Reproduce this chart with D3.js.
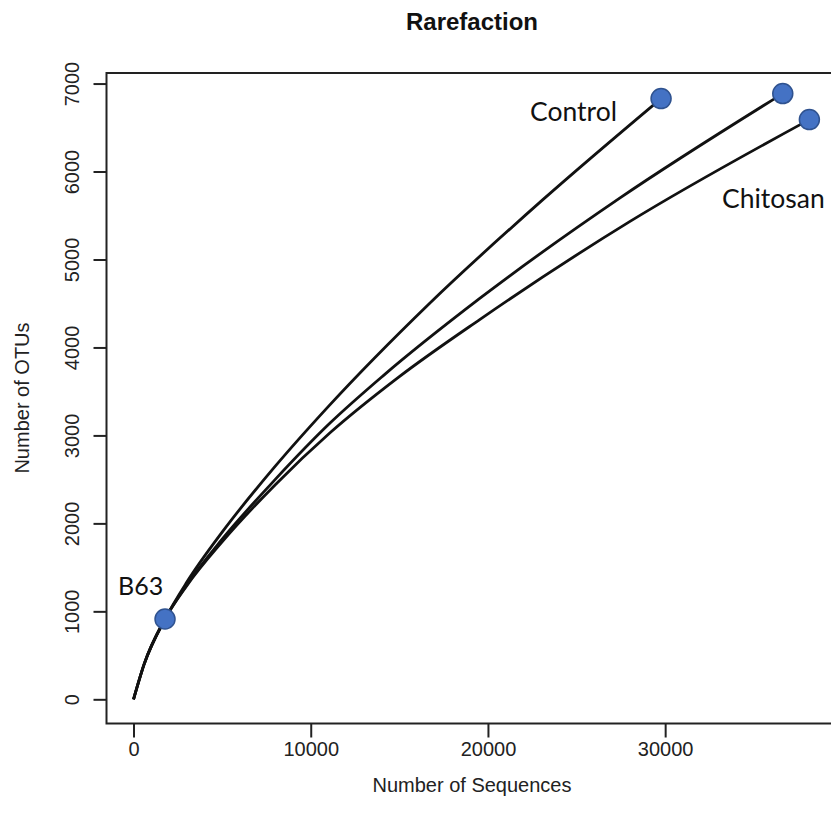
<!DOCTYPE html>
<html>
<head>
<meta charset="utf-8">
<script src="https://cdn.jsdelivr.net/npm/d3@7"></script>
<style>
  html, body { margin: 0; padding: 0; background: #fff; }
  svg { display: block; }
</style>
</head>
<body>
<svg id="chart" width="831" height="824"></svg>
<script>
// ---- data ----
const title = "Rarefaction";
const xLabel = "Number of Sequences";
const yLabel = "Number of OTUs";
const xTicks = [0, 10000, 20000, 30000];
const yTicks = [0, 1000, 2000, 3000, 4000, 5000, 6000, 7000];

const controlX = [0, 600, 1778, 3000, 5000, 8000, 11000, 16700, 23100, 29769];
const controlY = [0, 400, 913, 1330, 1900, 2650, 3330, 4500, 5680, 6829];

const middleX = [0, 600, 1778, 3000, 5000, 8000, 11089, 14097, 19555, 27455, 36637];
const middleY = [0, 400, 913, 1300, 1820, 2500, 3140, 3680, 4560, 5700, 6886];

const chitosanX = [0, 600, 1778, 3000, 5000, 8000, 11089, 14944, 19555, 28019, 38138];
const chitosanY = [0, 400, 913, 1290, 1790, 2440, 3030, 3660, 4320, 5433, 6590];

const pointX = [1778, 29769, 36637, 38138];
const pointY = [913, 6829, 6886, 6590];

const labelText = ["B63", "Control", "Chitosan"];

// ---- drawing ----
const svg = d3.select("#chart");
const x = d3.scaleLinear().domain([-1525, 39663]).range([106.5, 836.4]);
const y = d3.scaleLinear().domain([-275, 7120]).range([723.5, 73]);

const axisFont = "'Liberation Sans', Arial, sans-serif";
const labelFont = "Lato, 'Open Sans', sans-serif";

// frame
svg.append("rect")
  .attr("x", x(-1525)).attr("y", y(7120))
  .attr("width", x(39663) - x(-1525)).attr("height", y(-275) - y(7120))
  .attr("fill", "none").attr("stroke", "#222").attr("stroke-width", 2);

// x axis
const xAxis = d3.axisBottom(x).tickValues(xTicks).tickSize(14).tickPadding(4).tickFormat(d3.format("d"));
const gx = svg.append("g").attr("transform", `translate(0,${y(-275)})`).call(xAxis);
gx.select(".domain").remove();
gx.selectAll(".tick line").attr("stroke", "#222").attr("stroke-width", 2);
gx.selectAll(".tick text").attr("font-family", axisFont).attr("font-size", 20).attr("fill", "#222");

// y axis
const yAxis = d3.axisLeft(y).tickValues(yTicks).tickSize(13).tickPadding(0).tickFormat(d3.format("d"));
const gy = svg.append("g").attr("transform", `translate(${x(-1525)},0)`).call(yAxis);
gy.select(".domain").remove();
gy.selectAll(".tick line").attr("stroke", "#222").attr("stroke-width", 2);
gy.selectAll(".tick text")
  .attr("font-family", axisFont).attr("font-size", 20).attr("fill", "#222")
  .attr("x", null).attr("dy", null)
  .attr("text-anchor", "middle")
  .attr("transform", "translate(-28,0) rotate(-90)");

// titles
svg.append("text").attr("x", 472).attr("y", 30)
  .attr("text-anchor", "middle").attr("font-family", axisFont)
  .attr("font-weight", "bold").attr("font-size", 24).attr("fill", "#111").text(title);
svg.append("text").attr("x", 472).attr("y", 792)
  .attr("text-anchor", "middle").attr("font-family", axisFont)
  .attr("font-size", 20).attr("fill", "#222").text(xLabel);
svg.append("text").attr("transform", `translate(29,398) rotate(-90)`)
  .attr("text-anchor", "middle").attr("font-family", axisFont)
  .attr("font-size", 20).attr("fill", "#222").text(yLabel);

// curves
const line = d3.line().x(d => x(d[0])).y(d => y(d[1])).curve(d3.curveMonotoneX);
const series = [
  d3.zip(controlX, controlY),
  d3.zip(middleX, middleY),
  d3.zip(chitosanX, chitosanY)
];
svg.append("g").selectAll("path").data(series).join("path")
  .attr("d", line).attr("fill", "none").attr("stroke", "#111").attr("stroke-width", 2.8);

// points
svg.append("g").selectAll("circle").data(d3.zip(pointX, pointY)).join("circle")
  .attr("cx", d => x(d[0])).attr("cy", d => y(d[1])).attr("r", 10)
  .attr("fill", "#4472C4").attr("stroke", "#2F528F").attr("stroke-width", 1.5);

// labels
const labelPos = [[118, 595], [530, 121], [722, 208]];
const labelSize = [25, 26.5, 26.5];
svg.append("g").selectAll("text").data(labelText).join("text")
  .attr("x", (d, i) => labelPos[i][0]).attr("y", (d, i) => labelPos[i][1])
  .attr("font-family", labelFont).attr("font-size", (d, i) => labelSize[i]).attr("fill", "#111")
  .text(d => d);
</script>
</body>
</html>
